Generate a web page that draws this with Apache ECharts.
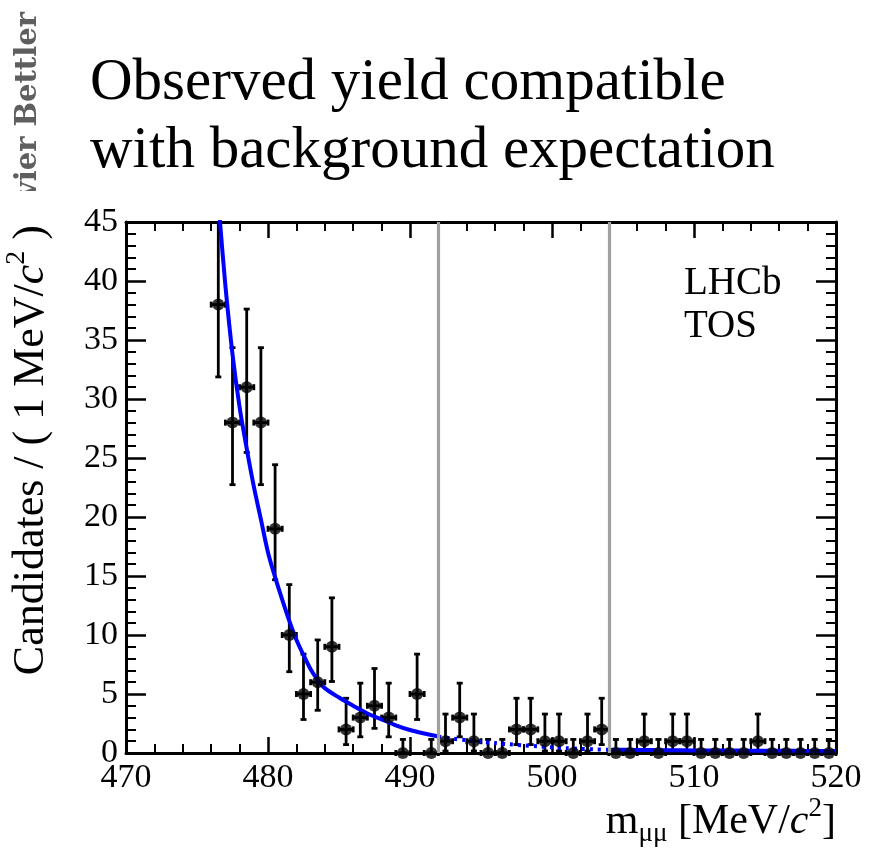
<!DOCTYPE html>
<html>
<head>
<meta charset="utf-8">
<script src="https://cdn.jsdelivr.net/npm/echarts@6/dist/echarts.min.js"></script>
<style>
  html, body { margin: 0; padding: 0; background: #fff; }
  #chart { width: 874px; height: 858px; }
</style>
</head>
<body>
<div id="chart"></div>
<script>
// ---------------- data ----------------
const massBins = [476.5, 477.5, 478.5, 479.5, 480.5, 481.5, 482.5, 483.5, 484.5, 485.5,
  486.5, 487.5, 488.5, 489.5, 490.5, 491.5, 492.5, 493.5, 494.5, 495.5,
  496.5, 497.5, 498.5, 499.5, 500.5, 501.5, 502.5, 503.5, 504.5, 505.5,
  506.5, 507.5, 508.5, 509.5, 510.5, 511.5, 512.5, 513.5, 514.5, 515.5,
  516.5, 517.5, 518.5, 519.5];
const candidates = [38, 28, 31, 28, 19, 10, 5, 6, 9, 2,
  3, 4, 3, 0, 5, 0, 1, 3, 1, 0,
  0, 2, 2, 1, 1, 0, 1, 2, 0, 0,
  1, 0, 1, 1, 0, 0, 0, 0, 1, 0,
  0, 0, 0, 0];
const errLow = [31.87, 22.74, 25.47, 22.74, 14.68, 6.89, 2.84, 3.62, 6.06, 0.71,
  1.37, 2.09, 1.37, 0, 2.84, 0, 0.17, 1.37, 0.17, 0,
  0, 0.71, 0.71, 0.17, 0.17, 0, 0.17, 0.71, 0, 0,
  0.17, 0, 0.17, 0.17, 0, 0, 0, 0, 0.17, 0,
  0, 0, 0, 0];
const errHigh = [45.2, 34.35, 37.62, 34.35, 24.43, 14.27, 8.38, 9.58, 13.15, 4.64,
  5.92, 7.16, 5.92, 1.15, 8.38, 1.15, 3.30, 5.92, 3.30, 1.15,
  1.15, 4.64, 4.64, 3.30, 3.30, 1.15, 3.30, 4.64, 1.15, 1.15,
  3.30, 1.15, 3.30, 3.30, 1.15, 1.15, 1.15, 1.15, 3.30, 1.15,
  1.15, 1.15, 1.15, 1.15];
const binWidth = 1;
const fitX = [476.5, 476.6, 477.0, 477.5, 478.0, 478.5, 479.0, 479.5, 480.0, 480.5,
  481.0, 481.5, 482.0, 482.5, 483.0, 483.5, 484.0, 485.0, 486.0, 487.0,
  488.0, 489.0, 490.0, 491.0, 492.0, 493.0, 494.0, 495.0, 496.0, 497.0,
  498.0, 499.0, 500.0, 501.0, 502.0, 503.0, 504.0, 506.0, 508.0, 510.0,
  512.0, 514.0, 516.0, 518.0, 520.0];
const fitY = [46.8, 45.3, 39.6, 33.8, 29.3, 25.8, 22.6, 19.8, 17.0, 14.9,
  13.0, 11.2, 9.6, 8.3, 7.1, 6.2, 5.5, 4.7, 4.0, 3.35,
  2.85, 2.35, 1.95, 1.65, 1.4, 1.22, 1.08, 0.95, 0.84, 0.74,
  0.65, 0.56, 0.48, 0.41, 0.35, 0.31, 0.28, 0.26, 0.24, 0.22,
  0.21, 0.20, 0.19, 0.18, 0.18];
const signalWindow = [492, 504];
const xRange = [470, 520];
const yRange = [0, 45];
const titleLines = ['Observed yield compatible', 'with background expectation'];
const labelLines = ['LHCb', 'TOS'];
const watermark = 'Xavier Bettler';

// ---------------- helpers ----------------
const FAMILY = "'Liberation Serif', 'Times New Roman', serif";
const mctx = document.createElement('canvas').getContext('2d');
function tw(str, font) { mctx.font = font; return mctx.measureText(str).width; }
function run(segs) {
  let x = 0;
  const children = segs.map(s => {
    const font = (s.italic ? 'italic ' : '') + s.size + 'px ' + FAMILY;
    const el = { type: 'text', x: x, y: s.dy || 0, z: 5,
      style: { text: s.t, font: font, fill: '#000', align: 'left', verticalAlign: 'middle' } };
    x += tw(s.t, font);
    return el;
  });
  return { children, width: x };
}

const pts = massBins.map((m, i) => [m, candidates[i], errLow[i], errHigh[i]]);
const fitPts = fitX.map((x, i) => [x, fitY[i]]);
const fitLeft = fitPts.filter(p => p[0] <= signalWindow[0]);
const fitMid = fitPts.filter(p => p[0] >= signalWindow[0] && p[0] <= signalWindow[1]);
const fitRight = fitPts.filter(p => p[0] >= signalWindow[1]);

const xTitle = run([
  { t: 'm', size: 42 },
  { t: 'μμ', size: 27, dy: 12 },
  { t: ' [MeV/', size: 42 },
  { t: 'c', size: 42, italic: true },
  { t: '2', size: 27, dy: -13 },
  { t: ']', size: 42 }
]);
const yTitle = run([
  { t: 'Candidates / ( 1 MeV/', size: 44 },
  { t: 'c', size: 44, italic: true },
  { t: '2', size: 28, dy: -14 },
  { t: ' )', size: 44 }
]);

const axisCommon = {
  axisLine: { show: true, onZero: false, lineStyle: { color: '#000', width: 3 } },
  splitLine: { show: false },
  minorSplitLine: { show: false }
};
function xAx(pos, showLabel) {
  return Object.assign({}, axisCommon, {
    type: 'value', position: pos, min: xRange[0], max: xRange[1], interval: 10,
    axisTick: { show: true, inside: true, length: 16, lineStyle: { color: '#000', width: 2.5 } },
    minorTick: { show: true, splitNumber: 5, length: 9, lineStyle: { color: '#000', width: 2 } },
    axisLabel: { show: showLabel, color: '#000', fontFamily: FAMILY, fontSize: 34, margin: 8 }
  });
}
function yAx(pos, showLabel) {
  return Object.assign({}, axisCommon, {
    type: 'value', position: pos, min: yRange[0], max: yRange[1], interval: 5,
    axisTick: { show: true, inside: true, length: 20, lineStyle: { color: '#000', width: 2.5 } },
    minorTick: { show: true, splitNumber: 5, length: 10, lineStyle: { color: '#000', width: 2 } },
    axisLabel: { show: showLabel, color: '#000', fontFamily: FAMILY, fontSize: 34, margin: 8 }
  });
}

const chart = echarts.init(document.getElementById('chart'), null, { renderer: 'canvas' });
const blue = '#0000ff';
chart.setOption({
  animation: false,
  backgroundColor: '#fff',
  grid: { left: 126, right: 38, top: 222, bottom: 105, containLabel: false },
  xAxis: [xAx('bottom', true), xAx('top', false)],
  yAxis: [yAx('left', true), yAx('right', false)],
  series: [
    {
      type: 'line', data: [], silent: true,
      markLine: {
        silent: true, symbol: 'none', label: { show: false },
        lineStyle: { color: '#a0a0a0', width: 3.2, type: 'solid' },
        data: signalWindow.map(v => ({ xAxis: v }))
      },
      z: 1
    },
    {
      type: 'custom', data: pts, clip: false, z: 2, silent: true,
      renderItem: function (params, api) {
        const x = api.value(0), y = api.value(1), lo = api.value(2), hi = api.value(3);
        const hiC = Math.min(hi, yRange[1]);
        const pLo = api.coord([x, lo]);
        const pHi = api.coord([x, hiC]);
        const pL = api.coord([x - binWidth / 2, y]);
        const pR = api.coord([x + binWidth / 2, y]);
        const st = { stroke: '#000', lineWidth: 2.8 };
        const cap = 3;
        const els = [
          { type: 'line', shape: { x1: pLo[0], y1: pLo[1], x2: pHi[0], y2: pHi[1] }, style: st },
          { type: 'line', shape: { x1: pL[0], y1: pL[1], x2: pR[0], y2: pR[1] }, style: st },
          { type: 'line', shape: { x1: pL[0], y1: pL[1] - cap, x2: pL[0], y2: pL[1] + cap }, style: st },
          { type: 'line', shape: { x1: pR[0], y1: pR[1] - cap, x2: pR[0], y2: pR[1] + cap }, style: st },
          { type: 'line', shape: { x1: pLo[0] - cap, y1: pLo[1], x2: pLo[0] + cap, y2: pLo[1] }, style: st }
        ];
        if (hi <= yRange[1]) {
          els.push({ type: 'line', shape: { x1: pHi[0] - cap, y1: pHi[1], x2: pHi[0] + cap, y2: pHi[1] }, style: st });
        }
        return { type: 'group', children: els };
      }
    },
    {
      type: 'line', data: fitLeft, showSymbol: false, smooth: 0.3, clip: true, silent: true,
      lineStyle: { color: blue, width: 4 }, z: 3
    },
    {
      type: 'line', data: fitMid, showSymbol: false, smooth: 0.3, clip: true, silent: true,
      lineStyle: { color: blue, width: 4, type: [3, 5] }, z: 3
    },
    {
      type: 'line', data: fitRight, showSymbol: false, smooth: 0.3, clip: true, silent: true,
      lineStyle: { color: blue, width: 4 }, z: 3
    },
    {
      type: 'scatter', data: pts.map(p => [p[0], p[1]]), symbol: 'circle', symbolSize: 12,
      itemStyle: { color: '#000' }, clip: false, silent: true, z: 4
    }
  ],
  graphic: [
    {
      type: 'text', x: 28, y: 12, rotation: Math.PI / 2, z: 1,
      style: { text: watermark, font: "bold 29px 'DejaVu Serif'", fill: '#5f5f5f', align: 'right', verticalAlign: 'middle' }
    },
    { type: 'rect', shape: { x: 0, y: 191, width: 62, height: 120 }, style: { fill: '#fff' }, z: 2 },
    {
      type: 'text', x: 90, y: 83, z: 3,
      style: { text: titleLines[0], font: '59px ' + FAMILY, fill: '#000', align: 'left', verticalAlign: 'middle' }
    },
    {
      type: 'text', x: 90, y: 151, z: 3,
      style: { text: titleLines[1], font: '59px ' + FAMILY, fill: '#000', align: 'left', verticalAlign: 'middle' }
    },
    {
      type: 'text', x: 684, y: 284, z: 3,
      style: { text: labelLines[0], font: '39px ' + FAMILY, fill: '#000', align: 'left', verticalAlign: 'middle' }
    },
    {
      type: 'text', x: 684, y: 327, z: 3,
      style: { text: labelLines[1], font: '39px ' + FAMILY, fill: '#000', align: 'left', verticalAlign: 'middle' }
    },
    { type: 'group', x: 836 - xTitle.width, y: 822, children: xTitle.children, z: 5 },
    { type: 'group', x: 31, y: 225 + yTitle.width, rotation: Math.PI / 2, children: yTitle.children, z: 5 }
  ]
});
</script>
</body>
</html>
